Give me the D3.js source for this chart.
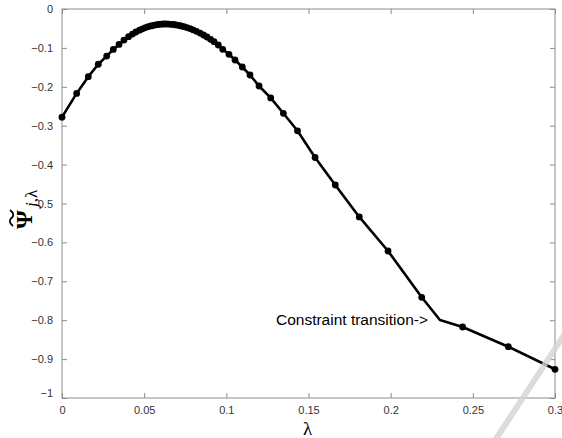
<!DOCTYPE html>
<html>
<head>
<meta charset="utf-8">
<script src="https://cdn.jsdelivr.net/npm/d3@7"></script>
<style>
  body { margin: 0; background: #fff; }
  svg { display: block; }
  .tick text { font-family: Arial, "Liberation Sans", sans-serif; font-size: 11px; fill: #333; }
</style>
</head>
<body>
<div id="chart"></div>
<script>
// marker positions (lambda, psi)
const lambdas = [0, 0.0089, 0.0160, 0.0221, 0.0272, 0.0312, 0.0347, 0.0377,
  0.0405, 0.0429, 0.0450, 0.0472, 0.0490, 0.0508, 0.0526, 0.0542, 0.0557, 0.0572,
  0.0587, 0.0602, 0.0618, 0.0633, 0.0648, 0.0663, 0.0679, 0.0694, 0.0709, 0.0724,
  0.0742, 0.0760, 0.0779, 0.0797, 0.0818, 0.0840, 0.0861, 0.0882, 0.0904, 0.0925,
  0.0951, 0.0978, 0.1016, 0.1053, 0.1097, 0.1144, 0.1199, 0.1270, 0.1347, 0.1433,
  0.1540, 0.1663, 0.1809, 0.1984, 0.2189, 0.2438, 0.2716, 0.3000];
const psis = [-0.278, -0.217, -0.174, -0.142, -0.121, -0.104, -0.091, -0.080,
  -0.0712, -0.0645, -0.0591, -0.0545, -0.0509, -0.0478, -0.0452, -0.0434, -0.0419, -0.0406,
  -0.0396, -0.0391, -0.0386, -0.0386, -0.0388, -0.0393, -0.0398, -0.0409, -0.0419, -0.0434,
  -0.0455, -0.0478, -0.0504, -0.0535, -0.0573, -0.0620, -0.0668, -0.0720, -0.0779, -0.0841,
  -0.0926, -0.1036, -0.1164, -0.1311, -0.1491, -0.1697, -0.1979, -0.2285, -0.2681, -0.3131,
  -0.3818, -0.4524, -0.5345, -0.6221, -0.7411, -0.8175, -0.8681, -0.9262];
// the constraint transition corner (no marker there)
const kink = { lambda: 0.230, psi: -0.7995 };

const xTicks = [0, 0.05, 0.1, 0.15, 0.2, 0.25, 0.3];
const yTicks = [0, -0.1, -0.2, -0.3, -0.4, -0.5, -0.6, -0.7, -0.8, -0.9, -1];

const width = 562, height = 438;
const margin = { top: 9, right: 7, bottom: 40, left: 62 };
const iw = width - margin.left - margin.right;
const ih = height - margin.top - margin.bottom;

const svg = d3.select("#chart").append("svg")
  .attr("width", width).attr("height", height);

const x = d3.scaleLinear().domain([0, 0.3]).range([0, iw]);
const y = d3.scaleLinear().domain([-1, 0]).range([ih, 0]);

const g = svg.append("g").attr("transform", `translate(${margin.left},${margin.top})`);

// frame
g.append("rect").attr("width", iw).attr("height", ih)
  .attr("fill", "none").attr("stroke", "#8c8c8c").attr("stroke-width", 1);

const fmt = d => d3.format("")(+d.toFixed(2));

// bottom + top x axis, ticks pointing inward
const xb = g.append("g").attr("transform", `translate(0,${ih})`)
  .call(d3.axisBottom(x).tickValues(xTicks).tickSizeInner(-5).tickSizeOuter(0).tickPadding(8).tickFormat(fmt));
const xt = g.append("g")
  .call(d3.axisTop(x).tickValues(xTicks).tickSizeInner(-5).tickSizeOuter(0).tickFormat(""));
const yl = g.append("g")
  .call(d3.axisLeft(y).tickValues(yTicks).tickSizeInner(-5).tickSizeOuter(0).tickPadding(9).tickFormat(fmt));
const yr = g.append("g").attr("transform", `translate(${iw},0)`)
  .call(d3.axisRight(y).tickValues(yTicks).tickSizeInner(-5).tickSizeOuter(0).tickFormat(""));
[xb, xt, yl, yr].forEach(a => {
  a.select(".domain").remove();
  a.selectAll(".tick line").attr("stroke", "#8c8c8c");
});
yl.selectAll(".tick text").filter(d => d === -1).attr("dy", "-0.1em");

// line through the markers with the kink inserted
const pts = lambdas.map((l, i) => ({ lambda: l, psi: psis[i] }));
const linePts = pts.filter(p => p.lambda < kink.lambda)
  .concat([kink], pts.filter(p => p.lambda > kink.lambda));

g.append("path").datum(linePts)
  .attr("fill", "none").attr("stroke", "#000").attr("stroke-width", 2.6)
  .attr("stroke-linejoin", "round")
  .attr("d", d3.line().x(d => x(d.lambda)).y(d => y(d.psi)));

g.selectAll("circle.mk").data(pts).enter().append("circle")
  .attr("class", "mk")
  .attr("cx", d => x(d.lambda)).attr("cy", d => y(d.psi))
  .attr("r", 3.4).attr("fill", "#000");

// annotation
g.append("text")
  .attr("x", x(kink.lambda) - 164).attr("y", y(kink.psi) + 5)
  .attr("font-family", "Arial, 'Liberation Sans', sans-serif")
  .attr("font-size", 15.5).attr("fill", "#000")
  .text("Constraint transition->");

// axis labels
svg.append("text")
  .attr("x", margin.left + iw / 2 - 1).attr("y", 435)
  .attr("text-anchor", "middle")
  .attr("font-family", "'Liberation Serif', 'DejaVu Serif', serif")
  .attr("font-size", 19).text("λ");

// y label: Psi with tilde and j,lambda subscript, rotated
const yLab = svg.append("g")
  .attr("transform", "translate(32,229) rotate(-90)")
  .attr("font-family", "'Liberation Serif', 'DejaVu Serif', serif");
yLab.append("text").attr("x", 0).attr("y", 0)
  .attr("font-size", 24).attr("font-weight", "bold").text("Ψ");
yLab.append("path")
  .attr("d", "M3,-19 C6,-23 9,-23 11,-20.5 C13,-18 16,-18 19,-22")
  .attr("fill", "none").attr("stroke", "#000").attr("stroke-width", 1.8);
const sub = yLab.append("text").attr("x", 22).attr("y", 5).attr("font-size", 17);
sub.append("tspan").attr("font-style", "italic").text("j");
sub.append("tspan").text(",λ");

// light grey scan streak in the lower right corner
svg.append("line")
  .attr("x1", 494).attr("y1", 442).attr("x2", 566).attr("y2", 332)
  .attr("stroke", "#d4d4d4").attr("stroke-width", 6).attr("opacity", 0.8);
</script>
</body>
</html>
